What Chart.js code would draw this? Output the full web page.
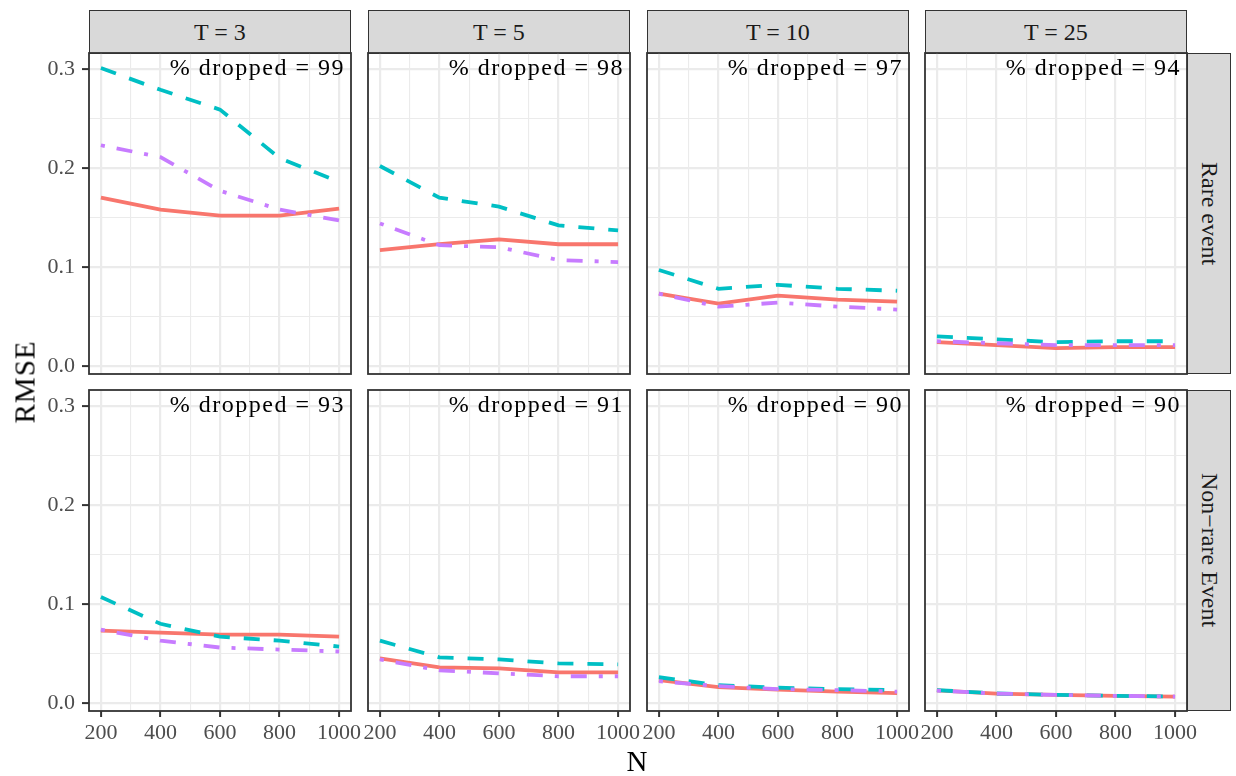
<!DOCTYPE html>
<html>
<head>
<meta charset="utf-8">
<script src="https://cdn.jsdelivr.net/npm/chart.js@4"></script>
<style>
  body { margin: 0; background: #fff; width: 1236px; height: 776px; position: relative; overflow: hidden; font-family: 'Liberation Serif', serif; }
  canvas.panel { position: absolute; }
  .strip { position: absolute; box-sizing: border-box; background: #D9D9D9; border: 1.8px solid #333; color: #1A1A1A; font-size: 24px; display: flex; align-items: center; justify-content: center; }
  .strip.right span { writing-mode: vertical-rl; white-space: nowrap; }
  .axis-title { position: absolute; font-size: 29px; color: #000; transform: translate(-50%, -50%); white-space: nowrap; }
  .axis-title.y { writing-mode: vertical-rl; letter-spacing: 1px; transform: translate(-50%, -50%) rotate(180deg); }
</style>
</head>
<body>
<script>
// facet labels
const nValues = [200, 400, 600, 800, 1000];
const tLabels = ['T = 3', 'T = 5', 'T = 10', 'T = 25'];
const eventLabels = ['Rare event', 'Non\u2212rare Event'];
const droppedPct = [[99, 98, 97, 94], [93, 91, 90, 90]];

// axis breaks
const xMajor = [200, 400, 600, 800, 1000];
const xMinor = [300, 500, 700, 900];
const yMajor = [0, 0.1, 0.2, 0.3];
const yMinor = [0.05, 0.15, 0.25];

// RMSE, one array per T panel (T = 3, 5, 10, 25), values along nValues
const rareSolid = [
  [0.170, 0.158, 0.152, 0.152, 0.159],
  [0.117, 0.123, 0.128, 0.123, 0.123],
  [0.073, 0.063, 0.071, 0.067, 0.065],
  [0.024, 0.021, 0.018, 0.019, 0.019]
];
const rareDashed = [
  [0.301, 0.279, 0.259, 0.210, 0.186],
  [0.202, 0.170, 0.161, 0.142, 0.137],
  [0.097, 0.078, 0.082, 0.078, 0.076],
  [0.030, 0.027, 0.024, 0.025, 0.025]
];
const rareDotdash = [
  [0.223, 0.211, 0.177, 0.158, 0.147],
  [0.144, 0.122, 0.120, 0.107, 0.105],
  [0.073, 0.060, 0.064, 0.060, 0.057],
  [0.025, 0.023, 0.021, 0.021, 0.021]
];
const nonRareSolid = [
  [0.073, 0.071, 0.069, 0.069, 0.067],
  [0.045, 0.036, 0.035, 0.031, 0.031],
  [0.023, 0.016, 0.0135, 0.0115, 0.010],
  [0.0128, 0.0094, 0.0081, 0.0071, 0.0064]
];
const nonRareDashed = [
  [0.107, 0.080, 0.067, 0.063, 0.057],
  [0.063, 0.046, 0.044, 0.040, 0.039],
  [0.026, 0.018, 0.0155, 0.014, 0.013],
  [0.013, 0.0096, 0.0082, 0.0072, 0.0065]
];
const nonRareDotdash = [
  [0.074, 0.063, 0.056, 0.054, 0.052],
  [0.044, 0.033, 0.030, 0.027, 0.027],
  [0.022, 0.017, 0.014, 0.013, 0.0115],
  [0.0125, 0.0095, 0.0082, 0.0072, 0.0065]
];

const rowSeries = [
  [rareSolid, rareDashed, rareDotdash],
  [nonRareSolid, nonRareDashed, nonRareDotdash]
];

// layout (px)
const panelLeft = [89, 368, 647, 925];
const panelTop = [53, 390];
const PW = 262, PH = 321;
const padL = 70, padR = 24, padT = 28;

const lineStyles = [
  { color: '#F8766D', dash: [], order: 3 },
  { color: '#00BFC4', dash: [16, 14], order: 2 },
  { color: '#C77CFF', dash: [4, 12, 16, 12], order: 1 }
];

const isMajor = (list, v) => list.some(m => Math.abs(m - v) < 1e-9);

const panelDecor = {
  id: 'panelDecor',
  afterDraw(chart, args, opts) {
    const { ctx, chartArea: a } = chart;
    ctx.save();
    ctx.font = '24px "Liberation Serif"';
    ctx.fillStyle = '#000';
    ctx.textAlign = 'right';
    ctx.textBaseline = 'alphabetic';
    ctx.letterSpacing = '1.5px';
    ctx.fillText('% dropped = ' + opts.pct, a.right - 6, a.top + 22);
    ctx.restore();
    ctx.save();
    ctx.strokeStyle = '#333333';
    ctx.lineWidth = 1.8;
    ctx.strokeRect(a.left, a.top, a.width, a.height);
    ctx.restore();
  }
};

function makeStrip(left, top, w, h, text, right) {
  const d = document.createElement('div');
  d.className = 'strip' + (right ? ' right' : '');
  Object.assign(d.style, { left: left + 'px', top: top + 'px', width: w + 'px', height: h + 'px' });
  const s = document.createElement('span');
  s.textContent = text;
  d.appendChild(s);
  document.body.appendChild(d);
}

for (let c = 0; c < 4; c++) makeStrip(panelLeft[c], 10, PW, 44, tLabels[c], false);
for (let r = 0; r < 2; r++) makeStrip(panelLeft[3] + PW, panelTop[r], 44, PH, eventLabels[r], true);

for (let r = 0; r < 2; r++) {
  for (let c = 0; c < 4; c++) {
    const axisH = r === 1 ? 44 : 28;
    const canvas = document.createElement('canvas');
    canvas.className = 'panel';
    canvas.width = padL + PW + padR;
    canvas.height = padT + PH + axisH;
    canvas.style.left = (panelLeft[c] - padL) + 'px';
    canvas.style.top = (panelTop[r] - padT) + 'px';
    document.body.appendChild(canvas);

    const datasets = rowSeries[r].map((series, i) => ({
      data: nValues.map((n, k) => ({ x: n, y: series[c][k] })),
      borderColor: lineStyles[i].color,
      borderDash: lineStyles[i].dash,
      borderWidth: 3.8,
      borderCapStyle: 'butt',
      pointRadius: 0,
      tension: 0,
      fill: false,
      order: lineStyles[i].order
    }));

    new Chart(canvas, {
      type: 'line',
      data: { datasets },
      options: {
        responsive: false,
        animation: false,
        layout: { padding: { left: c === 0 ? 10 : padL, right: padR, top: padT, bottom: 0 } },
        plugins: { legend: { display: false }, tooltip: { enabled: false }, panelDecor: { pct: droppedPct[r][c] } },
        scales: {
          x: {
            type: 'linear', min: 160, max: 1040,
            afterBuildTicks: s => { s.ticks = xMajor.concat(xMinor).sort((a, b) => a - b).map(v => ({ value: v })); },
            afterFit: s => { s.height = axisH; },
            border: { display: false },
            grid: {
              color: '#EBEBEB',
              lineWidth: ctx => isMajor(xMajor, ctx.tick.value) ? 2.2 : 1.1,
              drawTicks: r === 1, tickLength: 6, tickWidth: 2,
              tickColor: ctx => isMajor(xMajor, ctx.tick.value) ? '#333333' : 'rgba(0,0,0,0)'
            },
            ticks: {
              display: r === 1, autoSkip: false, maxRotation: 0, minRotation: 0, padding: 3,
              color: '#4D4D4D', font: { family: 'Liberation Serif', size: 22 },
              callback: v => isMajor(xMajor, v) ? String(v) : ''
            }
          },
          y: {
            type: 'linear', min: -0.0081, max: 0.3162,
            afterBuildTicks: s => { s.ticks = yMajor.concat(yMinor).sort((a, b) => a - b).map(v => ({ value: v })); },
            afterFit: s => { s.width = c === 0 ? 60 : 0; },
            border: { display: false },
            grid: {
              color: '#EBEBEB',
              lineWidth: ctx => isMajor(yMajor, ctx.tick.value) ? 2.2 : 1.1,
              drawTicks: c === 0, tickLength: 7, tickWidth: 2,
              tickColor: ctx => isMajor(yMajor, ctx.tick.value) ? '#333333' : 'rgba(0,0,0,0)'
            },
            ticks: {
              display: c === 0, padding: 7,
              color: '#4D4D4D', font: { family: 'Liberation Serif', size: 22 },
              callback: v => isMajor(yMajor, v) ? v.toFixed(1) : ''
            }
          }
        }
      },
      plugins: [panelDecor]
    });
  }
}

const yTitle = document.createElement('div');
yTitle.className = 'axis-title y';
yTitle.textContent = 'RMSE';
Object.assign(yTitle.style, { left: '25px', top: '382px' });
document.body.appendChild(yTitle);

const xTitle = document.createElement('div');
xTitle.className = 'axis-title';
xTitle.textContent = 'N';
Object.assign(xTitle.style, { left: '637px', top: '761px' });
document.body.appendChild(xTitle);
</script>
</body>
</html>
